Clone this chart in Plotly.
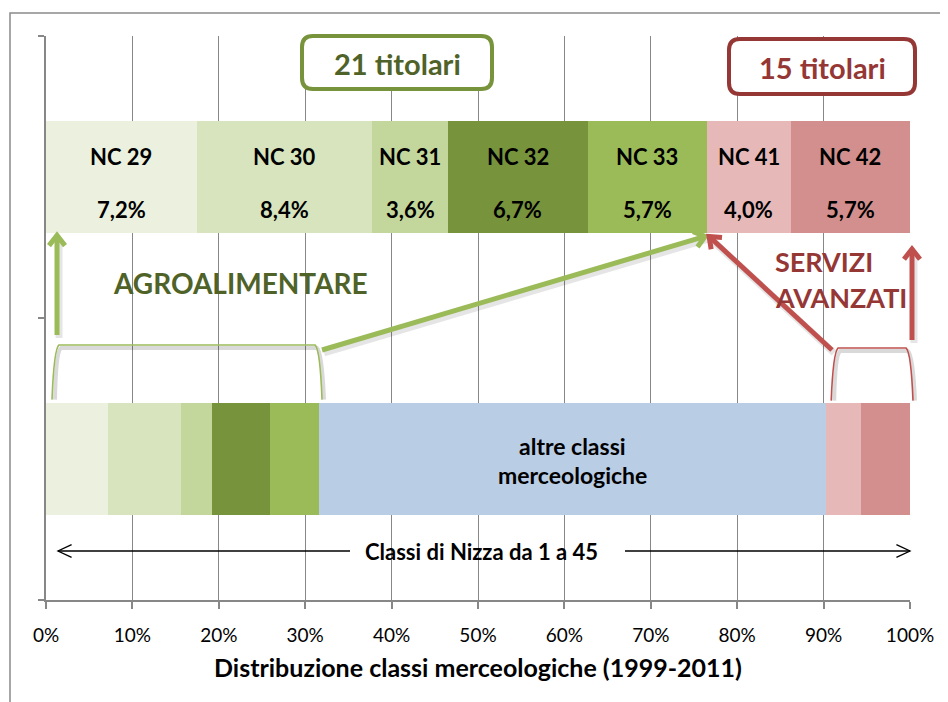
import math
import numpy as np
import plotly.graph_objects as go

# ---------------- data ----------------
classes = ["NC 29", "NC 30", "NC 31", "NC 32", "NC 33", "NC 41", "NC 42"]
shares = [7.2, 8.4, 3.6, 6.7, 5.7, 4.0, 5.7]          # % of all trademarks
colors = ["#EBF1DE", "#D7E4BD", "#C3D69B", "#77933C", "#9BBB59", "#E6B9B8", "#D28F8D"]
n_agro = 5                                             # first five = agroalimentare
other_label = "altre classi<br>merceologiche"
other_share = 58.7
other_color = "#B9CDE5"
xtick_vals = list(range(0, 101, 10))
xtick_text = [f"{v}%" for v in xtick_vals]
box_texts = ["21 titolari", "15 titolari"]
group_texts = ["AGROALIMENTARE", "SERVIZI", "AVANZATI"]
bottom_text = "Classi di Nizza da 1 a 45"
x_title = "Distribuzione classi merceologiche (1999-2011)"

# ---------------- geometry helpers ----------------
OFF = 8                       # page body margin
W, H = 940, 694
SL, ST = 46, 36               # plot-area top-left on screen
PW, PH = 864, 564
ML, MT = SL - OFF, ST - OFF
MR = W - ML - PW
MB = H - MT - PH
YR = (-0.5, 1.5)
FONT = "Lato"
GREEN_D, GREEN_B, GREEN_A = "#4F6228", "#77933C", "#9BBB59"
RED_D, RED_A = "#953735", "#C0504D"
GRID = "#878787"
BAR_HALF = 0.2


def xpx(x):
    return SL + x / 100.0 * PW


def ypx(y):
    return ST + (YR[1] - y) / (YR[1] - YR[0]) * PH


def paper(px, py):
    return (px - SL) / PW, (ST + PH - py) / PH


def P(px, py):
    a, b = paper(px, py)
    return f"{a:.5f},{b:.5f}"


shapes = []
annotations = []


def path(d, color, width, fill=None, layer="above"):
    s = dict(type="path", xref="paper", yref="paper", path=d,
             line=dict(color=color, width=width), layer=layer)
    if fill:
        s["fillcolor"] = fill
    shapes.append(s)


def arrow(x0, y0, x1, y1, color, width, head=13, ang=38, shadow=False):
    if shadow:
        path(f"M{P(x0+2, y0+3)} L{P(x1+2, y1+3)}", "rgba(0,0,0,0.10)", width + 2)
    path(f"M{P(x0, y0)} L{P(x1, y1)}", color, width)
    dx, dy = x1 - x0, y1 - y0
    L = math.hypot(dx, dy)
    bx, by = -dx / L, -dy / L
    arms = []
    for s in (1, -1):
        a = math.radians(ang * s)
        rx = bx * math.cos(a) - by * math.sin(a)
        ry = bx * math.sin(a) + by * math.cos(a)
        arms.append((x1 + rx * head, y1 + ry * head))
    path(f"M{P(*arms[0])} L{P(x1, y1)} L{P(*arms[1])}", color, width)


def bracket(a, b, top, bot, color):
    d = (f"M{P(a, bot)} Q{P(a + 2, top + 4)} {P(a + 7, top)} "
         f"L{P(b - 7, top)} Q{P(b - 2, top + 4)} {P(b, bot)}")
    dsh = (f"M{P(a + 3, bot)} Q{P(a + 4, top + 7)} {P(a + 9, top + 3)} "
           f"L{P(b - 5, top + 3)} Q{P(b, top + 7)} {P(b + 2, bot)}")
    path(dsh, "rgba(0,0,0,0.15)", 4)
    path(d, color, 1.6)


def rbox(x0, y0, x1, y1, r, color, width):
    d = (f"M{P(x0 + r, y0)} L{P(x1 - r, y0)} Q{P(x1, y0)} {P(x1, y0 + r)} "
         f"L{P(x1, y1 - r)} Q{P(x1, y1)} {P(x1 - r, y1)} L{P(x0 + r, y1)} "
         f"Q{P(x0, y1)} {P(x0, y1 - r)} L{P(x0, y0 + r)} Q{P(x0, y0)} {P(x0 + r, y0)} Z")
    path(d, color, width, fill="white")


def text(px, py, t, size, color="black", bold=True, xanchor="center"):
    x, y = paper(px, py)
    annotations.append(dict(x=x, y=y, xref="paper", yref="paper", text=(f"<b>{t}</b>" if bold else t),
                            showarrow=False, xanchor=xanchor, yanchor="middle",
                            font=dict(family=FONT, size=size, color=color)))


# ---------------- bars ----------------
fig = go.Figure()
order = list(range(n_agro)) + ["other"] + list(range(n_agro, len(classes)))
for k in order:
    if k == "other":
        fig.add_trace(go.Bar(y=[0], x=[other_share], orientation="h", marker_color=other_color,
                             marker_line_width=0, name="altre", showlegend=False, hoverinfo="x"))
    else:
        fig.add_trace(go.Bar(y=[1, 0], x=[shares[k], shares[k]], orientation="h",
                             marker_color=colors[k], marker_line_width=0, name=classes[k],
                             showlegend=False, hoverinfo="x"))

# top bar label positions (normalised to 100 %)
tot = sum(shares)
cum = np.concatenate([[0], np.cumsum(shares)]) / tot * 100
for i, c in enumerate(classes):
    cx = xpx((cum[i] + cum[i + 1]) / 2)
    text(cx, 157, c, 22)
    text(cx, 210, f"{shares[i]:.1f}%".replace(".", ","), 22)

# bottom bar positions
agro_end = sum(shares[:n_agro])
serv_start = agro_end + other_share
text(xpx((agro_end + serv_start) / 2), 446, other_label.split("<br>")[0], 23)
text(xpx((agro_end + serv_start) / 2), 475, other_label.split("<br>")[1], 23)

top_bot_px = ypx(1 - BAR_HALF)
bot_top_px = ypx(0 + BAR_HALF)
nc33_end_px = xpx(cum[n_agro])

# boxes
rbox(302, 36, 492, 89, 11, GREEN_B, 4)
text(397, 64, box_texts[0], 29, GREEN_D)
rbox(729, 39, 915, 94, 11, RED_D, 4)
text(822, 67, box_texts[1], 29, RED_D)

# group labels
text(240, 283, group_texts[0], 28, GREEN_D)
text(773, 261, group_texts[1], 27, RED_D, xanchor="left")
text(773, 297, group_texts[2], 27, RED_D, xanchor="left")

# brackets
bracket(xpx(0) + 6, xpx(agro_end) + 3, 345, bot_top_px - 3, GREEN_A)
bracket(xpx(serv_start) + 5, xpx(100) + 3, 348, bot_top_px - 2, RED_A)

# arrows
arrow(57, 335, 57, top_bot_px + 2, GREEN_A, 5, shadow=True)
arrow(xpx(agro_end) + 3, 350, nc33_end_px - 2, top_bot_px + 3, GREEN_A, 5, shadow=True)
arrow(832, 350, nc33_end_px + 2, top_bot_px + 3, RED_A, 5, shadow=True)
arrow(912, 340, 912, 249, RED_A, 5, shadow=True)

# classes 1..45 double arrow
yc = 551
arrow(350, yc, xpx(0) + 12, yc, "black", 1.3, head=15, ang=25)
arrow(625, yc, xpx(100), yc, "black", 1.3, head=15, ang=25)
text(481, yc, bottom_text, 22)

# x axis title
text(478, 667, x_title, 25)

# outer border (left and top)
path(f"M{P(10, 703)} L{P(10, 13)} L{P(950, 13)}", "#8A8A8A", 1.5, layer="below")

fig.update_layout(
    width=W, height=H,
    margin=dict(l=ML, r=MR, t=MT, b=MB),
    paper_bgcolor="white", plot_bgcolor="white",
    barmode="stack", barnorm="percent", bargap=0.6,
    shapes=shapes, annotations=annotations,
    showlegend=False,
    font=dict(family=FONT, size=18, color="black"),
    xaxis=dict(range=[0, 100], tickvals=xtick_vals, ticktext=xtick_text,
               showgrid=True, gridcolor=GRID, gridwidth=1.2,
               showline=True, linecolor=GRID, linewidth=1.5,
               ticks="outside", ticklen=7, tickcolor=GRID, tickwidth=1.5,
               tickfont=dict(family=FONT, size=19, color="black"),
               ticklabelstandoff=10, zeroline=False, fixedrange=True),
    yaxis=dict(range=list(YR), tickvals=[-0.5, 0.5, 1.5], ticktext=["", "", ""],
               showgrid=False, showline=True, linecolor=GRID, linewidth=1.5,
               ticks="outside", ticklen=6, tickcolor=GRID, tickwidth=1.5,
               zeroline=False, fixedrange=True),
)

fig.write_html("out.html")
